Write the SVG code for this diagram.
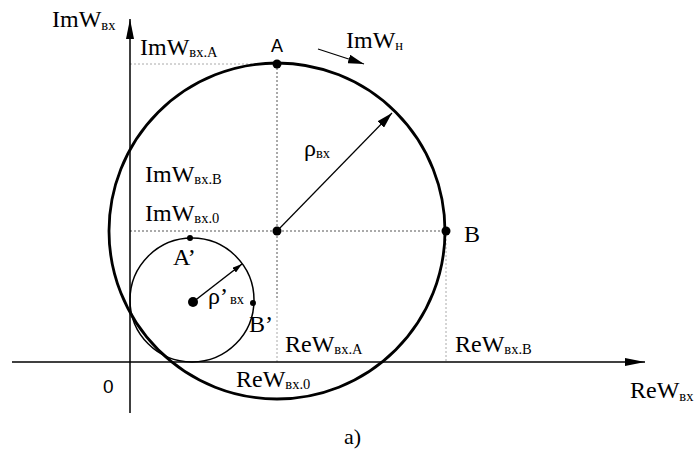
<svg xmlns="http://www.w3.org/2000/svg" width="698" height="453" viewBox="0 0 698 453">
<style>
.t{font-family:"Liberation Serif","Times New Roman",serif;font-size:24px;fill:#000}
.s{font-size:14.5px}
.sans{font-family:"Liberation Sans",Arial,sans-serif;font-size:18px;fill:#000}
.axis{stroke:#000;stroke-width:1.5;fill:none}
.dot1{stroke:#555;stroke-width:1;stroke-dasharray:2,2;fill:none}
.dot2{stroke:#aaa;stroke-width:1;stroke-dasharray:2,2;fill:none}
.circ{fill:none;stroke:#000}
</style>
<defs>
<marker id="ah" viewBox="0 0 10 6" refX="10" refY="3" markerWidth="10" markerHeight="6" markerUnits="userSpaceOnUse" orient="auto"><path d="M0,0 L10,3 L0,6 Z" fill="#000"/></marker>
<marker id="ahBig" viewBox="0 0 20 8" refX="20" refY="4" markerWidth="20" markerHeight="8" markerUnits="userSpaceOnUse" orient="auto"><path d="M0,0 L20,4 L0,8 Z" fill="#000"/></marker>
<marker id="ahMid" viewBox="0 0 16 9" refX="16" refY="4.5" markerWidth="16" markerHeight="9" markerUnits="userSpaceOnUse" orient="auto"><path d="M0,0 L16,4.5 L0,9 Z" fill="#000"/></marker>
</defs>
<rect width="698" height="453" fill="#fff"/>
<g id="connectors">
<line class="dot2" x1="130" y1="64" x2="277" y2="64"/>
<line class="dot1" x1="277" y1="64" x2="277" y2="300"/>
<line class="dot2" x1="277" y1="300" x2="277" y2="362"/>
<line class="dot1" x1="130" y1="231" x2="446" y2="231"/>
<line class="dot2" x1="446" y1="231" x2="446" y2="362"/>
<line class="axis" x1="130" y1="413" x2="130" y2="19" marker-end="url(#ahBig)"/>
<line class="axis" x1="12" y1="362" x2="645" y2="362" marker-end="url(#ahBig)"/>
<line x1="277" y1="231" x2="392" y2="113" stroke="#000" stroke-width="1.2" marker-end="url(#ahMid)"/>
<line x1="193" y1="302" x2="242" y2="264" stroke="#000" stroke-width="1.5" marker-end="url(#ah)"/>
<line x1="318" y1="49" x2="364" y2="64" stroke="#000" stroke-width="1.2" marker-end="url(#ahMid)"/>
</g>
<g id="bigCircle"><circle class="circ" cx="277" cy="231" r="168" stroke-width="2.8"/></g>
<g id="smallCircle"><circle class="circ" cx="192" cy="300" r="62" stroke-width="1.5"/></g>
<g id="pointA"><circle cx="277" cy="64" r="4.5"/><text class="sans" x="277" y="52" text-anchor="middle">A</text></g>
<g id="pointB"><circle cx="446" cy="231" r="4.5"/><text class="t" x="464" y="242">B</text></g>
<g id="center"><circle cx="277" cy="231" r="4.5"/></g>
<g id="smallCenter"><circle cx="193" cy="302" r="5"/></g>
<g id="pointA2"><circle cx="190" cy="238" r="3"/><text class="t" x="173" y="265">A’</text></g>
<g id="pointB2"><circle cx="253" cy="303" r="3"/><text class="t" x="249" y="332">B’</text></g>
<g id="labels">
<text class="t" x="52" y="27">ImW<tspan class="s" dy="3">вх</tspan></text>
<text class="t" x="140" y="55">ImW<tspan class="s" dy="2">вх.A</tspan></text>
<text class="t" x="346" y="48">ImW<tspan class="s" dy="2">н</tspan></text>
<text class="t" x="145" y="182">ImW<tspan class="s" dy="2">вх.B</tspan></text>
<text class="t" x="145" y="221">ImW<tspan class="s" dy="2">вх.0</tspan></text>
<text class="t" x="304" y="156">ρ<tspan class="s" dy="2">вх</tspan></text>
<text class="t" x="208" y="304">ρ’<tspan class="s" dx="2" dy="0">вх</tspan></text>
<text class="t" x="285" y="352">ReW<tspan class="s" dy="2">вх.A</tspan></text>
<text class="t" x="455" y="352">ReW<tspan class="s" dy="2">вх.B</tspan></text>
<text class="t" x="236" y="387">ReW<tspan class="s" dy="2">вх.0</tspan></text>
<text class="t" x="630" y="398">ReW<tspan class="s" dy="3">вх</tspan></text>
<text class="sans" x="103" y="393" style="font-size:19px">0</text>
<text class="t" x="344" y="444" style="font-size:22px">a)</text>
</g>
</svg>
